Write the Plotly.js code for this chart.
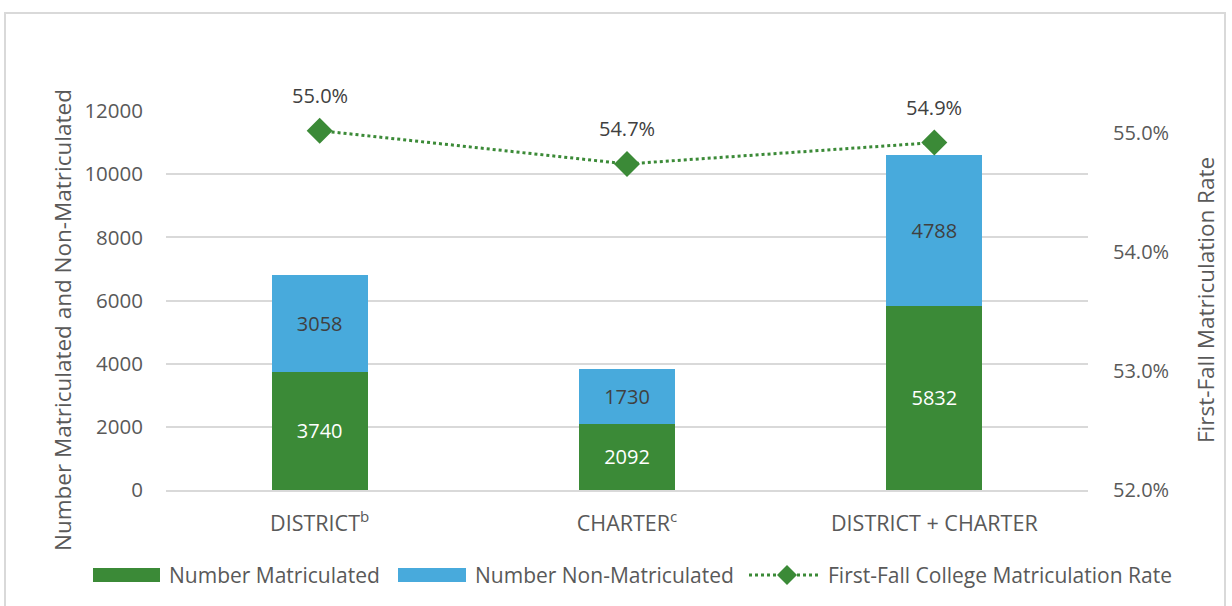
<!DOCTYPE html>
<html>
<head>
<meta charset="utf-8">
<script src="https://cdn.plot.ly/plotly-3.0.1.min.js"></script>
<style>
html,body{margin:0;padding:0;background:#fff;overflow:hidden;}
#frame{position:absolute;left:4px;top:12px;width:1222px;height:620px;border:2px solid #d9d9d9;box-sizing:border-box;}
#chart{position:absolute;left:0;top:0;width:1232px;height:606px;}
</style>
</head>
<body>
<div id="frame"></div>
<div id="chart"></div>
<script>
const categories = ["DISTRICT<sup>b</sup>", "CHARTER<sup>c</sup>", "DISTRICT + CHARTER"];
const matriculated = [3740, 2092, 5832];
const nonMatriculated = [3058, 1730, 4788];
const rate = [0.5502, 0.5474, 0.5492];
const rateLabels = ["55.0%", "54.7%", "54.9%"];
const seriesNames = ["Number Matriculated", "Number Non-Matriculated", "First-Fall College Matriculation Rate"];
const leftTitle = "Number Matriculated and Non-Matriculated";
const rightTitle = "First-Fall Matriculation Rate";

const GREEN = "#3b8a37", BLUE = "#48aadc", TXT = "#595959";
const FONT = "Open Sans, sans-serif";

const W = 1232, H = 606, L = 166, R = 144, T = 111, B = 116;
const pw = W - L - R, ph = H - T - B;
const px = x => (x - L) / pw;
const py = y => (H - B - y) / ph;

const traces = [
  {type: "bar", x: categories, y: matriculated, name: seriesNames[0],
   marker: {color: GREEN}, text: matriculated.map(String), textposition: "inside",
   insidetextanchor: "middle", textfont: {color: "#ffffff", size: 20, family: FONT},
   showlegend: false, hoverinfo: "skip"},
  {type: "bar", x: categories, y: nonMatriculated, name: seriesNames[1],
   marker: {color: BLUE}, text: nonMatriculated.map(String), textposition: "inside",
   insidetextanchor: "middle", textfont: {color: "#404040", size: 20, family: FONT},
   showlegend: false, hoverinfo: "skip"},
  {type: "scatter", mode: "lines+markers", x: categories, y: rate, yaxis: "y2",
   name: seriesNames[2], line: {color: GREEN, width: 3, dash: "dot"},
   marker: {symbol: "diamond", size: 20, color: GREEN}, showlegend: false, hoverinfo: "skip", cliponaxis: false}
];

const annotations = categories.map((c, i) => ({
  x: c, y: rate[i], xref: "x", yref: "y2", text: rateLabels[i], showarrow: false,
  yshift: 35, font: {size: 20, color: "#404040", family: FONT}
}));

// axis titles as annotations (positioned like the reference)
annotations.push({xref: "paper", yref: "paper", x: px(62), y: py(320), textangle: -90,
  text: leftTitle, showarrow: false, xanchor: "center", yanchor: "middle",
  font: {size: 22.5, color: TXT, family: FONT}});
annotations.push({xref: "paper", yref: "paper", x: px(1205), y: py(300), textangle: -90,
  text: rightTitle, showarrow: false, xanchor: "center", yanchor: "middle",
  font: {size: 22.5, color: TXT, family: FONT}});

// custom legend
const legY = 575;
const shapes = [
  {type: "rect", xref: "paper", yref: "paper", x0: px(93), x1: px(160), y0: py(582), y1: py(568), fillcolor: GREEN, line: {width: 0}},
  {type: "rect", xref: "paper", yref: "paper", x0: px(398), x1: px(466), y0: py(582), y1: py(568), fillcolor: BLUE, line: {width: 0}},
  {type: "line", xref: "paper", yref: "paper", x0: px(749), x1: px(820), y0: py(legY), y1: py(legY), line: {color: GREEN, width: 3, dash: "dot"}},
  {type: "path", xref: "paper", yref: "paper",
   path: `M ${px(777)} ${py(legY)} L ${px(787)} ${py(legY-10)} L ${px(797)} ${py(legY)} L ${px(787)} ${py(legY+10)} Z`,
   fillcolor: GREEN, line: {width: 0}}
];
[[167, 0], [473, 1], [826, 2]].forEach(([x, k]) => annotations.push({
  xref: "paper", yref: "paper", x: px(x), y: py(legY), xanchor: "left", yanchor: "middle",
  text: seriesNames[k], showarrow: false, font: {size: 21, color: TXT, family: FONT}
}));

const layout = {
  width: W, height: H, paper_bgcolor: "rgba(0,0,0,0)", plot_bgcolor: "rgba(0,0,0,0)",
  margin: {l: L, r: R, t: T, b: B},
  barmode: "stack", bargap: 0.688,
  font: {family: FONT, color: TXT, size: 19},
  xaxis: {showgrid: false, showline: true, linecolor: "#d9d9d9", linewidth: 2, ticks: "",
          tickfont: {size: 21.5, color: TXT}, ticklabelstandoff: 13, fixedrange: true},
  yaxis: {range: [0, 12000], dtick: 2000, tickformat: "d", showgrid: true, gridcolor: "#d9d9d9", gridwidth: 2,
          zeroline: false, showline: false, ticks: "", tickfont: {size: 20.5, color: TXT},
          ticklabelstandoff: 22},
  yaxis2: {overlaying: "y", side: "right", range: [0.52, 0.55185], tickvals: [0.52, 0.53, 0.54, 0.55],
           tickformat: ".1%", showgrid: false, zeroline: false, showline: false, ticks: "",
           tickfont: {size: 20, color: TXT}, ticklabelstandoff: 24},
  annotations: annotations, shapes: shapes
};

Plotly.newPlot("chart", traces, layout, {displayModeBar: false, staticPlot: true});
</script>
</body>
</html>
